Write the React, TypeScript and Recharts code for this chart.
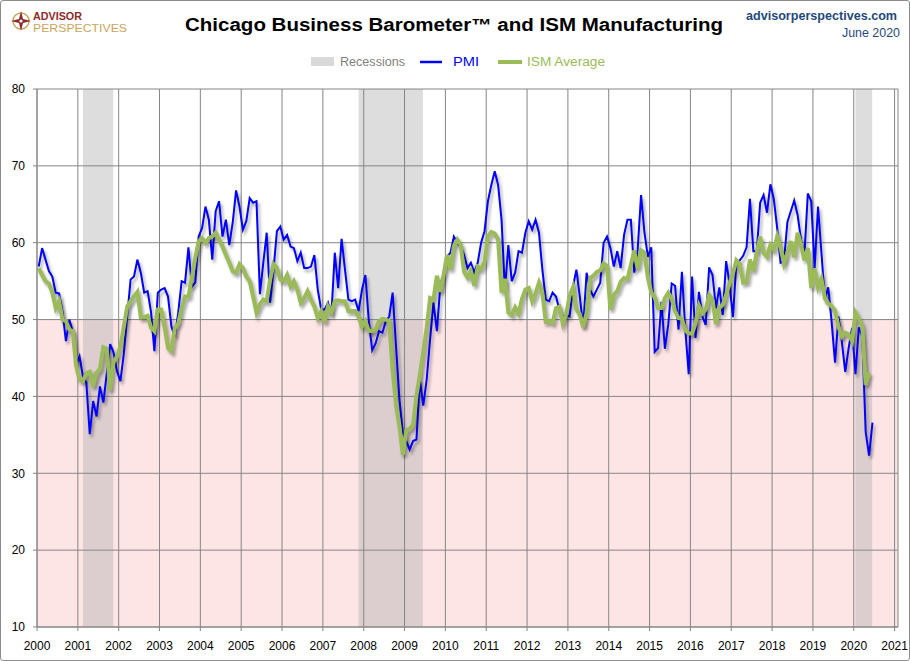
import React from "react";
import {
  ComposedChart,
  Line,
  XAxis,
  YAxis,
  CartesianGrid,
  ReferenceArea,
} from "recharts";

// monthly readings, Jan 2000 onwards
const PMI = [
  56.9, 59.3, 57.8, 56.3, 55.6, 53.5, 53.4, 51.0, 47.2, 50.0, 48.5, 44.0,
  45.2, 42.6, 41.8, 35.1, 39.4, 37.4, 41.3, 39.2, 43.0, 46.8, 45.7, 43.3,
  42.0, 45.5, 50.4, 55.2, 55.6, 57.8, 56.1, 53.5, 53.7, 51.0, 45.9, 53.5,
  53.9, 54.1, 53.0, 49.1, 47.8, 50.9, 55.0, 54.8, 59.4, 54.3, 54.8, 60.8,
  61.9, 64.7, 63.0, 57.8, 64.1, 65.4, 60.8, 63.0, 59.7, 62.6, 66.8, 64.7,
  61.7, 62.8, 65.8, 65.2, 65.4, 53.3, 57.4, 61.3, 52.2, 56.5, 61.5, 62.1,
  60.4, 61.0, 59.5, 59.3, 57.6, 58.7, 56.7, 56.7, 56.9, 58.4, 53.9, 51.3,
  51.3, 52.2, 50.6, 58.7, 54.1, 60.5, 56.5, 52.6, 52.4, 52.6, 51.1, 53.9,
  55.8, 49.8, 46.0, 46.9, 48.5, 48.3, 49.8, 50.4, 53.5, 46.5, 39.6, 35.3,
  34.2, 33.1, 34.2, 34.4, 42.2, 38.8, 42.2, 47.4, 52.2, 48.5, 54.3, 56.1,
  58.2, 58.7, 60.8, 60.0, 59.5, 58.4, 56.7, 57.4, 56.1, 57.4, 60.0, 61.5,
  65.4, 67.5, 69.3, 67.5, 63.0, 53.8, 59.7, 55.0, 56.1, 58.9, 58.7, 61.3,
  62.8, 61.7, 63.0, 61.3, 56.5, 52.6, 52.4, 53.5, 53.0, 51.3, 50.4, 50.6,
  50.4, 54.3, 56.5, 53.0, 49.1, 56.1, 53.9, 53.0, 53.9, 54.8, 60.0, 60.8,
  59.3, 56.9, 58.9, 56.7, 61.0, 63.0, 63.0, 56.1, 59.1, 66.2, 61.3, 58.2,
  59.4, 45.8, 46.3, 52.3, 46.2, 49.4, 54.7, 54.4, 48.7, 56.2, 48.7, 42.9,
  55.6, 47.6, 53.6, 50.4, 49.3, 56.8, 55.8, 51.5, 54.2, 50.6, 57.6, 54.6,
  50.3, 57.4, 57.7, 58.3, 59.4, 65.7, 58.9, 58.9, 65.2, 66.2, 63.9, 67.6,
  65.7, 61.9, 57.4, 57.6, 62.7, 64.1, 65.5, 63.6, 60.4, 58.4, 66.4, 65.4,
  56.7, 64.7, 58.7, 52.6, 54.2, 49.7, 44.4, 50.4, 47.1, 43.2, 46.3, 48.9,
  42.9, 49.0, 47.8, 35.4, 32.3, 36.6,
];

const ISM = [
  56.7, 55.8, 55.0, 54.7, 53.5, 51.5, 52.4, 50.0, 49.8, 48.7, 48.5, 44.0,
  42.2, 42.0, 43.0, 43.2, 41.3, 43.1, 43.6, 46.4, 46.2, 40.8, 44.5, 45.2,
  46.5, 49.0, 51.7, 52.4, 53.0, 53.6, 50.3, 50.3, 50.5, 49.0, 48.5, 51.3,
  51.3, 49.0, 46.3, 45.9, 48.9, 49.5, 51.5, 53.0, 53.0, 55.5, 58.0, 60.2,
  60.6, 60.0, 60.6, 60.8, 61.3, 60.4, 59.5, 58.4, 57.4, 56.3, 56.1, 57.2,
  56.7, 55.6, 55.0, 53.0, 50.9, 52.0, 52.6, 52.4, 55.2, 57.2, 56.7, 55.2,
  55.0, 55.8, 54.3, 55.0, 53.9, 52.2, 52.8, 53.7, 52.6, 51.7, 50.2, 51.1,
  49.6, 51.7, 50.9, 52.4, 52.5, 52.4, 52.4, 51.1, 51.1, 51.1, 50.4, 49.1,
  49.8, 48.5, 48.5, 48.7, 49.8, 50.1, 50.0, 49.8, 43.5, 38.9, 36.2, 32.4,
  35.6, 35.8, 36.3, 40.1, 42.8, 45.8, 48.9, 52.8, 52.6, 55.7, 53.6, 55.9,
  58.4, 56.5, 59.6, 60.4, 59.7, 56.2, 55.5, 56.3, 54.4, 56.9, 56.6, 57.5,
  60.8, 61.4, 61.2, 60.4, 53.5, 55.3, 50.9, 50.6, 51.6, 50.8, 52.7, 53.9,
  54.1, 52.4, 53.4, 54.8, 53.5, 49.7, 49.8, 49.6, 51.5, 51.7, 49.5, 50.7,
  53.1, 54.2, 51.3, 50.7, 49.0, 50.9, 55.4, 55.7, 56.2, 56.4, 57.3, 57.0,
  51.3, 53.2, 53.7, 54.9, 55.4, 55.3, 57.1, 59.0, 56.6, 59.0, 58.7, 55.5,
  53.5, 52.9, 51.5, 51.5, 52.8, 53.5, 52.7, 51.1, 50.2, 50.1, 48.6, 48.2,
  48.2, 49.5, 51.8, 50.8, 51.3, 53.2, 52.6, 49.4, 51.5, 51.9, 53.2, 54.7,
  56.0, 57.7, 57.2, 54.8, 54.9, 57.8, 56.3, 58.8, 60.8, 58.7, 58.2, 59.7,
  59.1, 60.8, 59.3, 57.3, 58.7, 60.2, 58.1, 61.3, 59.8, 57.7, 59.3, 54.1,
  56.6, 54.2, 55.3, 52.8, 52.1, 51.7, 51.2, 49.1, 47.8, 48.3, 48.1, 47.2,
  50.9, 50.1, 49.1, 41.5, 43.1,
];

const START_YEAR = 2000;
const YEARS = [
  2000, 2001, 2002, 2003, 2004, 2005, 2006, 2007, 2008, 2009, 2010,
  2011, 2012, 2013, 2014, 2015, 2016, 2017, 2018, 2019, 2020, 2021,
];
const Y_TICKS = [10, 20, 30, 40, 50, 60, 70, 80];
const RECESSION_START = ["2001-03", "2007-12", "2020-02"];
const RECESSION_END = ["2001-11", "2009-06", "2020-06"];
const CONTRACTION = [10, 50];

const monthIdx = (s: string) => {
  const [y, m] = s.split("-").map(Number);
  return (y - START_YEAR) * 12 + (m - 1);
};

// points sit mid-month on a months-since-2000 axis
const data = PMI.map((v, i) => ({
  t: i + 0.5,
  pmi: v,
  ism: i < ISM.length ? ISM[i] : null,
}));

const yearTicks = YEARS.map((y) => (y - START_YEAR) * 12);
const font = "'Liberation Sans', Arial, sans-serif";
const gridGrey = "#868686";

function Header() {
  return (
    <svg
      width={910}
      height={80}
      style={{ position: "absolute", left: 0, top: 0, pointerEvents: "none" }}
    >
      {/* logo */}
      <g transform="translate(21,21)">
        <circle r={8} fill="none" stroke="#c9a55a" strokeWidth={1.5} />
        <path d="M0,-10 L2,-2 L10,0 L2,2 L0,10 L-2,2 L-10,0 L-2,-2 Z" fill="#8e2a2a" />
        <circle r={1.6} fill="#fff" />
      </g>
      <text x={33} y={19.5} fontFamily={font} fontWeight="bold" fontSize={11}
        fill="#8e2a2a" textLength={49} lengthAdjust="spacingAndGlyphs">
        ADVISOR
      </text>
      <text x={33} y={32} fontFamily={font} fontSize={11} fill="#c9a55a"
        textLength={94} lengthAdjust="spacingAndGlyphs">
        PERSPECTIVES
      </text>

      <text x={185} y={31} fontFamily={font} fontWeight="bold" fontSize={17.5}
        fill="#000" textLength={538} lengthAdjust="spacingAndGlyphs">
        Chicago Business Barometer™ and ISM Manufacturing
      </text>

      <text x={746} y={20} fontFamily={font} fontWeight="bold" fontSize={13}
        fill="#1f497d" textLength={151} lengthAdjust="spacingAndGlyphs">
        advisorperspectives.com
      </text>
      <text x={842} y={37} fontFamily={font} fontSize={12.5}
        fill="#1f497d" textLength={58} lengthAdjust="spacingAndGlyphs">
        June 2020
      </text>

      {/* legend */}
      <rect x={311} y={57} width={23} height={9} fill="#d9d9d9" />
      <text x={340} y={66} fontFamily={font} fontSize={12} fill="#7f7f7f"
        textLength={65} lengthAdjust="spacingAndGlyphs">
        Recessions
      </text>
      <line x1={420} x2={442} y1={62} y2={62} stroke="#0000ff" strokeWidth={2.5} />
      <text x={453} y={66} fontFamily={font} fontSize={12} fill="#0000ff"
        textLength={26} lengthAdjust="spacingAndGlyphs">
        PMI
      </text>
      <line x1={498} x2={522} y1={62} y2={62} stroke="#9bbb59" strokeWidth={4} />
      <text x={527} y={66} fontFamily={font} fontSize={12} fill="#9bbb59"
        textLength={78} lengthAdjust="spacingAndGlyphs">
        ISM Average
      </text>
    </svg>
  );
}

export default function App() {
  return (
    <div
      style={{
        position: "fixed",
        left: 0,
        top: 0,
        width: 910,
        height: 661,
        background: "#fff",
        fontFamily: font,
      }}
    >
      <style>{`
        .recharts-line-curve { filter: drop-shadow(2px 3px 1.5px rgba(0,0,0,0.35)); }
      `}</style>
      <ComposedChart
        width={910}
        height={661}
        data={data}
        margin={{ top: 89, right: 12, bottom: 0, left: 0 }}
      >
        <ReferenceArea
          y1={CONTRACTION[0]}
          y2={CONTRACTION[1]}
          fill="#fde4e5"
          fillOpacity={1}
          stroke="none"
          zIndex={-300}
        />
        {RECESSION_START.map((s, i) => (
          <ReferenceArea
            key={s}
            x1={monthIdx(s) - 0.5}
            x2={monthIdx(RECESSION_END[i]) + 0.4}
            fill="#afafaf"
            fillOpacity={0.42}
            stroke="none"
            zIndex={-250}
          />
        ))}
        <CartesianGrid stroke={gridGrey} strokeWidth={1} />
        <XAxis
          type="number"
          dataKey="t"
          domain={[0, 253]}
          ticks={yearTicks}
          interval={0}
          height={34}
          tickFormatter={(v) => String(START_YEAR + v / 12)}
          stroke={gridGrey}
          tickSize={4}
          tickMargin={10}
          tick={{ fontSize: 12, fill: "#000", fontFamily: font }}
        />
        <YAxis
          type="number"
          domain={[10, 80]}
          ticks={Y_TICKS}
          interval={0}
          width={37}
          stroke={gridGrey}
          tickSize={4}
          tickMargin={8}
          tick={{ fontSize: 12, fill: "#000", fontFamily: font }}
        />
        <Line
          type="linear"
          dataKey="pmi"
          stroke="#0000ff"
          strokeWidth={2}
          dot={false}
          activeDot={false}
          isAnimationActive={false}
        />
        <Line
          type="linear"
          dataKey="ism"
          stroke="#9bbb59"
          strokeWidth={4}
          dot={false}
          activeDot={false}
          isAnimationActive={false}
        />
      </ComposedChart>
      <Header />
      <div
        style={{
          position: "absolute",
          inset: 0,
          border: "1px solid #8c8c8c",
          borderRadius: 3,
          pointerEvents: "none",
        }}
      />
    </div>
  );
}
